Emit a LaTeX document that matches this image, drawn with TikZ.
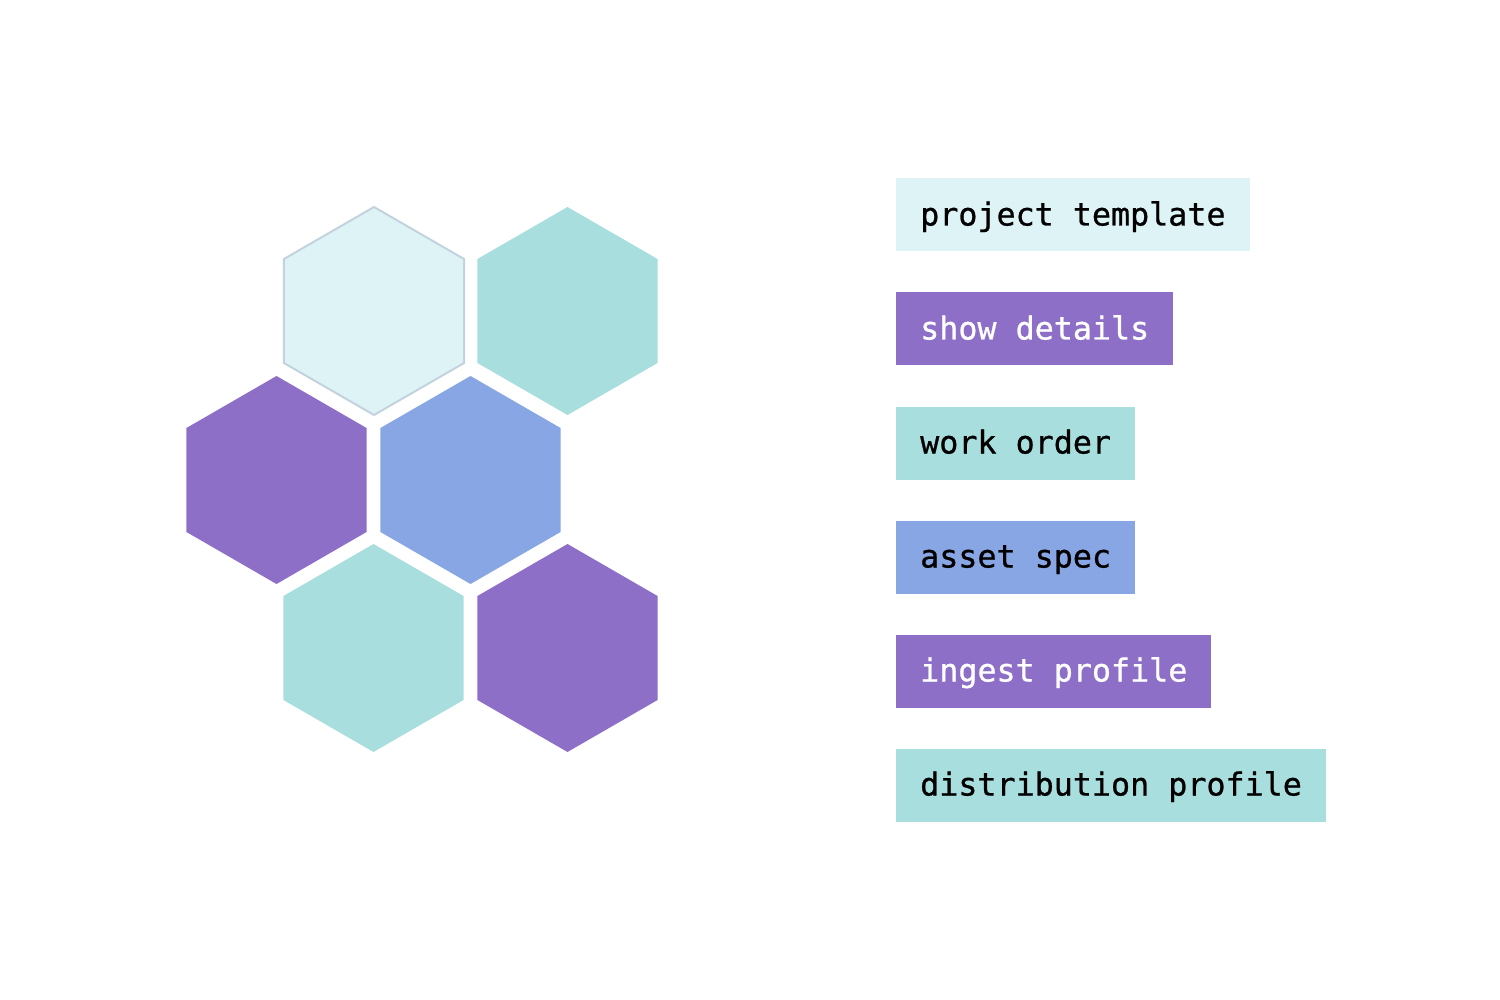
\documentclass[tikz,border=0pt]{standalone}
\usepackage{fontspec}
\setmonofont{DejaVu Sans Mono}[BoldFont={DejaVu Sans Mono}, BoldFeatures={FakeBold=0.8}]
\usetikzlibrary{shapes.geometric,positioning}

\definecolor{pale}{HTML}{DDF3F6}
\definecolor{paletrait}{HTML}{C3D3DE}
\definecolor{sarcelle}{HTML}{A8DFDE}
\definecolor{violet}{HTML}{8D6FC8}
\definecolor{bleu}{HTML}{88A6E3}

\tikzset{alveole/.style = {regular polygon, regular polygon sides=6,
                           shape border rotate=30, minimum size=208,
                           inner sep=0pt, outer sep=0pt, fill=#1},
         alveole/.default=sarcelle,
         etiquette/.style = {anchor=west, fill=#1, minimum height=73,
                             inner xsep=24, inner ysep=0pt,
                             text height=25, text depth=4,
                             font=\ttfamily\bfseries\fontsize{31.7}{38}\selectfont},
         etiquette/.default=sarcelle
        }

\begin{document}
\begin{tikzpicture}[x=1pt,y=-1pt]
  \useasboundingbox (0,0) rectangle (1500,1000);
  % les alveoles
  \node[alveole=pale, draw=paletrait, line width=2] (h1) at (374,311) {};
  \node[alveole] (h2) at (567.5,311) {};
  \node[alveole=violet] (h3) at (276.5,480) {};
  \node[alveole=bleu] (h4) at (470.5,480) {};
  \node[alveole] (h5) at (373.5,648) {};
  \node[alveole=violet] (h6) at (567.5,648) {};
  % les etiquettes
  \node[etiquette=pale] (e1) at (896,215) {project template};
  \node[etiquette=violet, text=white] (e2) at (896,329) {show details};
  \node[etiquette] (e3) at (896,443) {work order};
  \node[etiquette=bleu] (e4) at (896,557) {asset spec};
  \node[etiquette=violet, text=white] (e5) at (896,671) {ingest profile};
  \node[etiquette] (e6) at (896,785) {distribution profile};
\end{tikzpicture}
\end{document}
